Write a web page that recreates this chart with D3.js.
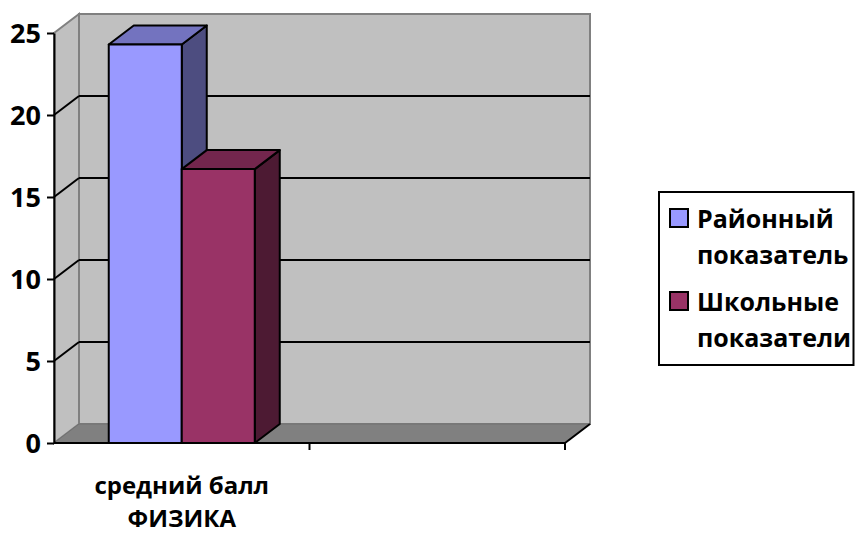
<!DOCTYPE html>
<html><head><meta charset="utf-8">
<script src="https://cdn.jsdelivr.net/npm/d3@7"></script>
<style>
html,body{margin:0;padding:0;background:#fff;}
svg{display:block;font-family:"Open Sans",sans-serif;font-weight:bold;}
</style></head>
<body><svg id="c" width="855" height="533"></svg>
<script>
// ---- data ----
const categories = ["средний балл|ФИЗИКА", ""];
const seriesNames = ["Районный|показатель", "Школьные|показатели"];
const districtValues = [24.3, null];
const schoolValues = [16.7, null];
const yTicks = [0, 5, 10, 15, 20, 25];
const seriesColors = ["#9999ff", "#993366"];

const svg = d3.select("#c");
const DX = 25, DY = -19;
const y = d3.scaleLinear().domain([0, 25]).range([443, 33]);
const x = d3.scaleBand().domain(categories).range([54, 565]).paddingInner(0).paddingOuter(0);
const gapRatio = 1.5;
const barW = x.bandwidth() / (seriesNames.length + gapRatio);
const xs = d3.scaleBand().domain(d3.range(seriesNames.length))
  .range([barW * gapRatio / 2, barW * gapRatio / 2 + barW * seriesNames.length]).padding(0);

const [x0, x1] = x.range();
const y0 = y(0), yTop = y(25);

// back wall
svg.append("rect").attr("x", x0 + DX).attr("y", yTop + DY)
  .attr("width", x1 - x0).attr("height", y0 - yTop)
  .attr("fill", "#c0c0c0").attr("stroke", "#808080").attr("stroke-width", 2);
// side wall
svg.append("polygon")
  .attr("points", [[x0, yTop], [x0 + DX, yTop + DY], [x0 + DX, y0 + DY], [x0, y0]].join(" "))
  .attr("fill", "#c0c0c0").attr("stroke", "#808080").attr("stroke-width", 2);
// floor
svg.append("polygon")
  .attr("points", [[x0, y0], [x0 + DX, y0 + DY], [x1 + DX, y0 + DY], [x1, y0]].join(" "))
  .attr("fill", "#808080").attr("stroke", "#707070").attr("stroke-width", 1);
svg.append("line").attr("x1", x1).attr("y1", y0).attr("x2", x1 + DX).attr("y2", y0 + DY)
  .attr("stroke", "#000").attr("stroke-width", 2);

// gridlines
const gridVals = yTicks.filter(v => v > 0 && v < 25);
svg.selectAll("line.gb").data(gridVals).join("line").attr("class", "gb")
  .attr("x1", x0 + DX).attr("x2", x1 + DX)
  .attr("y1", d => y(d) + DY).attr("y2", d => y(d) + DY)
  .attr("stroke", "#000").attr("stroke-width", 2);
svg.selectAll("line.gs").data(gridVals).join("line").attr("class", "gs")
  .attr("x1", x0).attr("x2", x0 + DX)
  .attr("y1", d => y(d)).attr("y2", d => y(d) + DY)
  .attr("stroke", "#000").attr("stroke-width", 2);

// bars
function shade(c, k) { const r = d3.rgb(c); return d3.rgb(r.r * k, r.g * k, r.b * k).formatHex(); }
const seriesVals = [districtValues, schoolValues];
const bars = [];
categories.forEach((cat, ci) => {
  seriesVals.forEach((vals, si) => {
    if (vals[ci] == null) return;
    bars.push({ left: x(cat) + xs(si), v: vals[ci], color: seriesColors[si] });
  });
});
const bg = svg.append("g");
bars.forEach(b => {
  const l = b.left, r = b.left + barW, t = y(b.v), bt = y0;
  const g = bg.append("g").attr("stroke", "#000").attr("stroke-width", 2).attr("stroke-linejoin", "round");
  g.append("polygon").attr("points", [[r, t], [r + DX, t + DY], [r + DX, bt + DY], [r, bt]].join(" "))
    .attr("fill", shade(b.color, 0.5));
  g.append("polygon").attr("points", [[l, t], [l + DX, t + DY], [r + DX, t + DY], [r, t]].join(" "))
    .attr("fill", shade(b.color, 0.75));
  g.append("rect").attr("x", l).attr("y", t).attr("width", barW).attr("height", bt - t)
    .attr("fill", b.color);
});

// y axis
const ya = svg.append("g").attr("transform", `translate(${x0},0)`)
  .call(d3.axisLeft(y).tickValues(yTicks).tickSize(7).tickSizeOuter(0).tickPadding(6));
ya.select(".domain").attr("stroke", "#000").attr("stroke-width", 2);
ya.selectAll(".tick line").attr("stroke", "#000").attr("stroke-width", 2);
ya.selectAll(".tick text").attr("font-family", "Open Sans").attr("font-weight", "bold")
  .attr("font-size", 27).attr("fill", "#000").attr("dy", "0.36em");

// x axis
svg.append("line").attr("x1", x0).attr("x2", x1).attr("y1", y0).attr("y2", y0)
  .attr("stroke", "#000").attr("stroke-width", 2);
const bounds = categories.map(c => x(c) + x.bandwidth());
svg.selectAll("line.xt").data(bounds).join("line").attr("class", "xt")
  .attr("x1", d => d).attr("x2", d => d).attr("y1", y0).attr("y2", y0 + 7)
  .attr("stroke", "#000").attr("stroke-width", 2);
categories.forEach(c => {
  if (!c) return;
  c.split("|").forEach((ln, i) => {
    svg.append("text").attr("text-anchor", "middle").attr("font-size", 24).attr("fill", "#000")
      .attr("x", x(c) + x.bandwidth() / 2).attr("y", 494 + i * 33).text(ln);
  });
});

// legend
const lg = svg.append("g");
lg.append("rect").attr("x", 659).attr("y", 192).attr("width", 194.5).attr("height", 173)
  .attr("fill", "#fff").attr("stroke", "#000").attr("stroke-width", 2);
seriesNames.forEach((s, i) => {
  const by = 228 + i * 83;
  lg.append("rect").attr("x", 670).attr("y", by - 19).attr("width", 18).attr("height", 18)
    .attr("fill", seriesColors[i]).attr("stroke", "#000").attr("stroke-width", 2);
  s.split("|").forEach((ln, j) => {
    lg.append("text").attr("x", 697).attr("y", by + j * 36)
      .attr("font-size", 25).attr("fill", "#000").text(ln);
  });
});
</script></body></html>
